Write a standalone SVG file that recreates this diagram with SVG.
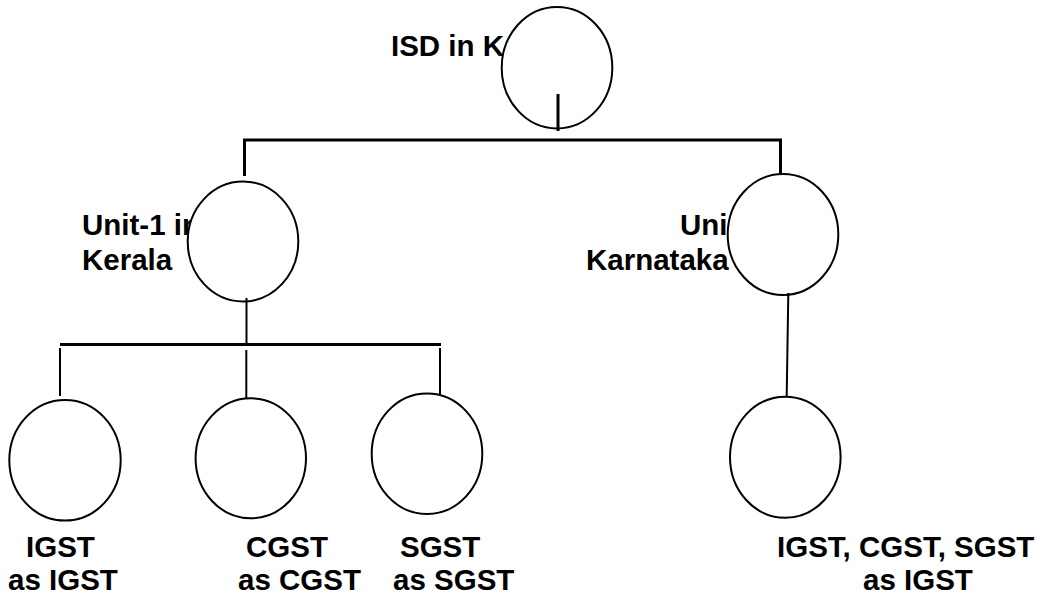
<svg xmlns="http://www.w3.org/2000/svg" width="1051" height="596" viewBox="0 0 1051 596">
<style>
.lbl{font-family:"Liberation Sans",Arial,sans-serif;font-weight:bold;font-size:29.5px;fill:#000}
.node{fill:#fff;stroke:#000;stroke-width:2}
.bar{stroke:#000;stroke-width:3;fill:none}
.ln{stroke:#000;stroke-width:2;fill:none}
</style>
<rect width="1051" height="596" fill="#fff"/>
<g id="isd">
<text class="lbl" x="391" y="56">ISD in K</text>
<ellipse class="node" cx="557" cy="67.7" rx="55.3" ry="60.7"/>
</g>
<g id="unit1">
<text class="lbl" x="82" y="235">Unit-1 in</text>
<text class="lbl" x="82" y="270">Kerala</text>
<ellipse class="node" cx="243" cy="241.5" rx="55.3" ry="60"/>
</g>
<g id="unit2">
<text class="lbl" x="680" y="235">Uni</text>
<text class="lbl" x="586" y="270">Karnataka</text>
<ellipse class="node" cx="783" cy="234.5" rx="55.3" ry="60.5"/>
</g>
<g id="igst">
<ellipse class="node" cx="65" cy="460.3" rx="55.7" ry="60.3"/>
<text class="lbl" x="26" y="557">IGST</text>
<text class="lbl" x="8" y="590">as IGST</text>
</g>
<g id="cgst">
<ellipse class="node" cx="250.8" cy="458.3" rx="55.2" ry="60"/>
<text class="lbl" x="246" y="557">CGST</text>
<text class="lbl" x="238" y="590">as CGST</text>
</g>
<g id="sgst">
<ellipse class="node" cx="427" cy="453.7" rx="55.3" ry="60.3"/>
<text class="lbl" x="400" y="557">SGST</text>
<text class="lbl" x="393" y="590">as SGST</text>
</g>
<g id="all-igst">
<ellipse class="node" cx="785.3" cy="457.2" rx="55.3" ry="60.5"/>
<text class="lbl" x="777" y="557">IGST, CGST, SGST</text>
<text class="lbl" x="863" y="590">as IGST</text>
</g>
<g id="connectors">
<line class="bar" x1="558" y1="94" x2="558" y2="131"/>
<line class="bar" x1="243" y1="140" x2="782" y2="140"/>
<line class="bar" x1="244.5" y1="140" x2="244.5" y2="176"/>
<line class="bar" x1="780.5" y1="140" x2="780.5" y2="174"/>
<line class="ln" x1="246.5" y1="298" x2="246.5" y2="344"/>
<line class="bar" x1="60" y1="344.5" x2="441" y2="344.5"/>
<line class="ln" x1="60" y1="348" x2="60" y2="396"/>
<line class="ln" x1="246.3" y1="350" x2="246.3" y2="398"/>
<line class="ln" x1="440" y1="348" x2="440" y2="395"/>
<line class="ln" x1="788.3" y1="293" x2="786.7" y2="397"/>
</g>
</svg>
